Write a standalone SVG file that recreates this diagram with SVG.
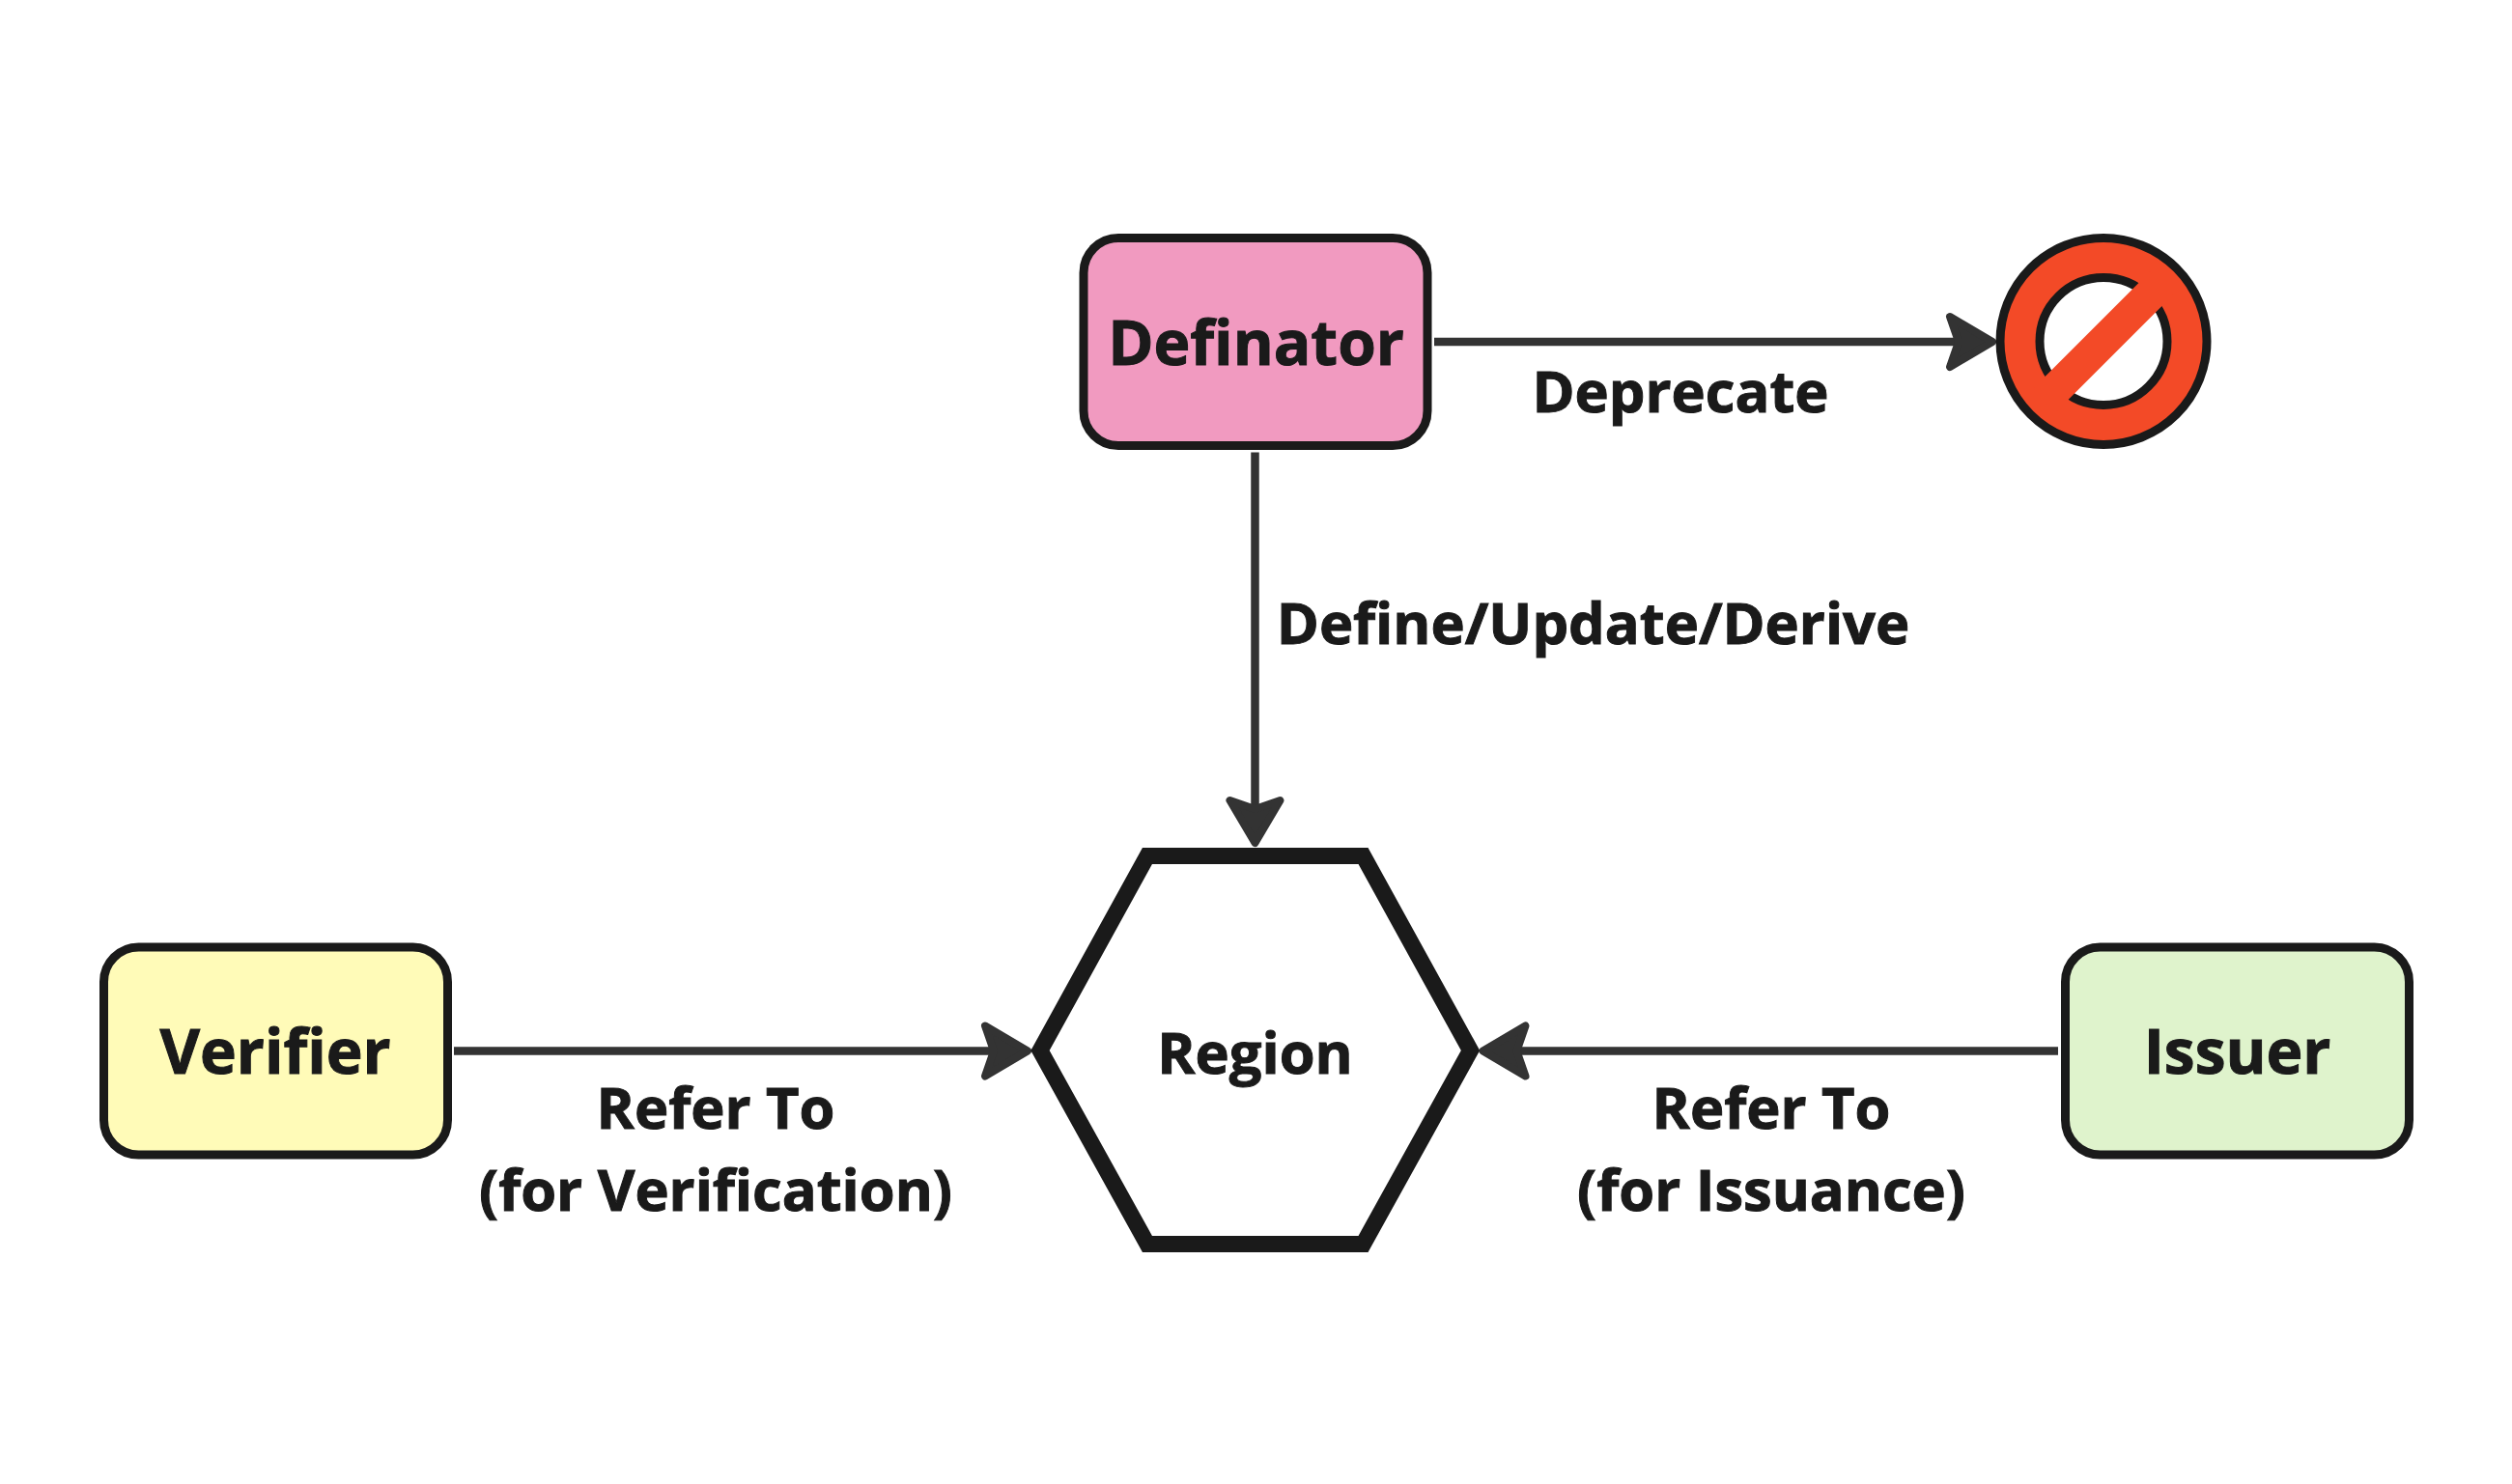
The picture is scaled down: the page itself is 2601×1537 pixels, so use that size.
<svg xmlns="http://www.w3.org/2000/svg" width="2601" height="1537" viewBox="0 0 2601 1537">
<defs>
<style>
text{font-family:"Open Sans","Noto Sans","Liberation Sans",sans-serif;font-weight:700;fill:#1a1a1a;stroke:#1a1a1a;stroke-width:1;text-anchor:middle}
.box{stroke:#1a1a1a;stroke-width:9}
.n{font-size:64px}
.l{font-size:59.6px}
.c{stroke:#333;stroke-width:8.5;fill:none}
</style>
<marker id="a" markerUnits="userSpaceOnUse" markerWidth="60" markerHeight="70" refX="13" refY="32" orient="auto"><path d="M5 6L49 32L5 58L14 32Z" fill="#333" stroke="#333" stroke-width="8" stroke-linejoin="round"/></marker>
</defs>
<rect width="2601" height="1537" fill="#fff"/>
<g id="connectors">
<path class="c" d="M1485 354H2027" marker-end="url(#a)"/>
<path class="c" d="M1299.5 468.5V837" marker-end="url(#a)"/>
<path class="c" d="M470 1088.5H1028" marker-end="url(#a)"/>
<path class="c" d="M2131 1088.5H1571.5" marker-end="url(#a)"/>
</g>
<g id="definator"><rect class="box" x="1122" y="246.5" width="356" height="215" rx="36" fill="#f19ac0"/><text class="n" x="1300.5" y="377.5">Definator</text></g>
<g id="deprecated"><circle class="box" cx="2178" cy="353.5" r="107" fill="#f34a27"/><circle class="box" cx="2178" cy="353.5" r="66" fill="#fff"/><path d="M2118 413.5L2238 293.5" stroke="#f34a27" stroke-width="34"/></g>
<g id="region"><path d="M1077 1088L1188 886.5H1411.5L1522.5 1088L1411.5 1288.5H1188Z" fill="#fff" stroke="#1a1a1a" stroke-width="17"/><text class="l" x="1299.5" y="1112">Region</text></g>
<g id="verifier"><rect class="box" x="107.5" y="981" width="356" height="215" rx="36" fill="#fffbb8"/><text class="n" x="285" y="1112">Verifier</text></g>
<g id="issuer"><rect class="box" x="2138.5" y="981" width="356" height="215" rx="36" fill="#dff3cc"/><text class="n" x="2316.5" y="1112">Issuer</text></g>
<g id="labels">
<text class="l" x="1740" y="427">Deprecate</text>
<text class="l" x="1649.5" y="667">Define/Update/Derive</text>
<text class="l" x="741" y="1169">Refer To</text>
<text class="l" x="741" y="1254">(for Verification)</text>
<text class="l" x="1834" y="1169">Refer To</text>
<text class="l" x="1834" y="1254">(for Issuance)</text>
</g>
</svg>
